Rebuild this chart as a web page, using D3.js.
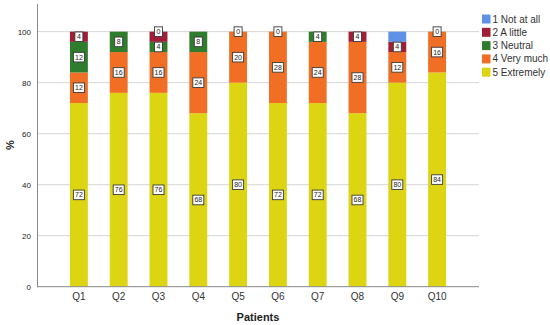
<!DOCTYPE html>
<html><head><meta charset="utf-8">
<script src="https://cdn.jsdelivr.net/npm/d3@7"></script>
<style>body{margin:0;background:#fff}svg{font-family:"Liberation Sans",Arial,sans-serif}</style>
</head><body><svg id="c" width="550" height="325"></svg>
<script>
const questions = ["Q1","Q2","Q3","Q4","Q5","Q6","Q7","Q8","Q9","Q10"];
const seriesNames = ["5 Extremely","4 Very much","3 Neutral","2 A little","1 Not at all"];
const extremely = [72,76,76,68,80,72,72,68,80,84];
const veryMuch  = [12,16,16,24,20,28,24,28,12,16];
const neutral   = [12, 8, 4, 8, 0, 0, 4, 0, 0, 0];
const aLittle   = [ 4, 0, 4, 0, 0, 0, 0, 4, 4, 0];
const notAtAll  = [ 0, 0, 0, 0, 0, 0, 0, 0, 4, 0];
const yTicks = [0,20,40,60,80,100];
const legendOrder = ["1 Not at all","2 A little","3 Neutral","4 Very much","5 Extremely"];
const hiddenLabels = [["Q3","2 A little"],["Q9","1 Not at all"]];
const zeroLabelQuestions = ["Q3","Q5","Q6","Q10"];

const colors = {"1 Not at all":"#5f92e6","2 A little":"#a01e36","3 Neutral":"#2f7d2c","4 Very much":"#f06f24","5 Extremely":"#ddd512"};

const rows = questions.map((q,i)=>({q,"5 Extremely":extremely[i],"4 Very much":veryMuch[i],"3 Neutral":neutral[i],"2 A little":aLittle[i],"1 Not at all":notAtAll[i]}));
const stacked = d3.stack().keys(seriesNames)(rows);

const svg = d3.select("#c");
const x = d3.scaleBand().domain(questions).range([59,457]).paddingInner(0.55).paddingOuter(0.275);
const y = d3.scaleLinear().domain([0,111]).range([286.7,3.6]);
const left = 37, right = 479;

// grid
svg.append("g").selectAll("line").data(yTicks.filter(t=>t>0)).join("line")
  .attr("x1",left).attr("x2",right).attr("y1",d=>y(d)).attr("y2",d=>y(d))
  .attr("stroke","#d6d6d6").attr("stroke-width",1);

// bars
svg.append("g").selectAll("g").data(stacked).join("g")
  .attr("fill",d=>colors[d.key])
  .selectAll("rect").data(d=>d).join("rect")
  .attr("x",d=>x(d.data.q)).attr("width",x.bandwidth())
  .attr("y",d=>y(d[1])).attr("height",d=>y(d[0])-y(d[1]));

// axes
const yAxis = svg.append("g").attr("transform",`translate(${left},0)`)
  .call(d3.axisLeft(y).tickValues(yTicks).tickSize(0).tickPadding(6));
yAxis.select(".domain").attr("stroke","#888");
yAxis.selectAll("text").attr("font-size",8).attr("fill","#222").attr("font-family","Liberation Sans, Arial, sans-serif");
svg.append("line").attr("x1",left).attr("x2",right).attr("y1",y(0)).attr("y2",y(0)).attr("stroke","#888");
const xAxis = svg.append("g").attr("transform",`translate(0,${y(0)})`)
  .call(d3.axisBottom(x).tickSize(0).tickPadding(6));
xAxis.select(".domain").remove();
xAxis.selectAll("text").attr("font-size",10).attr("fill","#333").attr("font-family","Liberation Sans, Arial, sans-serif");

svg.append("text").attr("x",258).attr("y",321).attr("text-anchor","middle")
  .attr("font-size",11).attr("font-weight","bold").attr("fill","#222").text("Patients");
svg.append("text").attr("transform","translate(14,145) rotate(-90)").attr("text-anchor","middle")
  .attr("font-size",11).attr("font-weight","bold").attr("fill","#222").text("%");

// labels
const labels = [];
stacked.forEach(s=>s.forEach(d=>{
  const v = d[1]-d[0];
  if (v>0 && !hiddenLabels.some(h=>h[0]===d.data.q && h[1]===s.key))
    labels.push({q:d.data.q, v, pos:(d[0]+d[1])/2});
}));
zeroLabelQuestions.forEach(q=>labels.push({q, v:0, pos:100}));
const lg = svg.append("g").selectAll("g").data(labels).join("g")
  .attr("transform",d=>`translate(${x(d.q)+x.bandwidth()/2},${y(d.pos)})`);
lg.append("rect").attr("x",d=>d.v>=10?-5.5:-4).attr("y",-4.8)
  .attr("width",d=>d.v>=10?11:8).attr("height",9.6)
  .attr("fill","#fff").attr("stroke","#3a3a3a").attr("stroke-width",0.9);
lg.append("text").attr("text-anchor","middle").attr("dy","0.35em")
  .attr("font-size",7).attr("fill","#222").text(d=>d.v);

// legend
const leg = svg.append("g").selectAll("g").data(legendOrder).join("g")
  .attr("transform",(d,i)=>`translate(482,${19+i*13.3})`);
leg.append("rect").attr("x",0).attr("y",-4.5).attr("width",8.5).attr("height",9).attr("fill",d=>colors[d]);
leg.append("text").attr("x",10.5).attr("dy","0.35em").attr("font-size",10).attr("fill","#333").text(d=>d);
</script></body></html>
